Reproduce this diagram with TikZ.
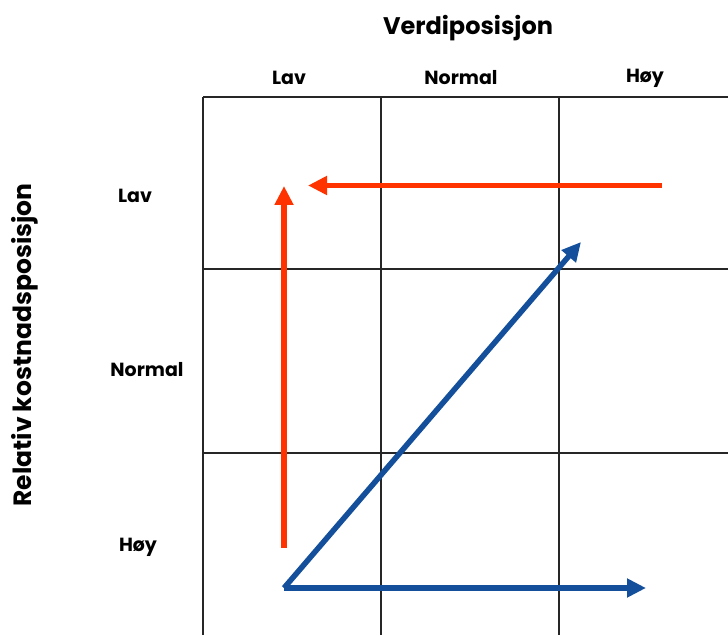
\documentclass[tikz,border=0pt]{standalone}
\usepackage{fontspec}
\setmainfont{Poppins}
\usepackage{tikz}
\usetikzlibrary{arrows.meta}
\definecolor{arrred}{RGB}{255,51,0}
\definecolor{arrblue}{RGB}{19,79,154}

\begin{document}
\begin{tikzpicture}[x=1pt, y=1pt,
  grid/.style={draw=black!85, line width=1.2pt},
  title/.style={font=\fontsize{24}{28}\selectfont\bfseries},
  lbl/.style={font=\fontsize{19}{22}\selectfont\bfseries},
  redarr/.style={draw=arrred, line width=5.5pt, -{Triangle[length=19pt,width=18pt]}},
  bluearr/.style={draw=arrblue, line width=5.5pt, -{Triangle[length=19pt,width=18pt]}}]
\useasboundingbox (0,0) rectangle (728,635);
% grid
\foreach \x in {203,381,559} \draw[grid] (\x,538) -- (\x,0);
\foreach \y in {538,366,182} \draw[grid] (203,\y) -- (728,\y);
% labels
\node[title] (vp) at (468,607) {Verdiposisjon};
\node[title, font=\fontsize{25}{28}\selectfont\bfseries, rotate=90] (kp) at (25,290) {Relativ kostnadsposisjon};
\node[lbl] (clav) at (289,557) {Lav};
\node[lbl] (cnorm) at (461,557) {Normal};
\node[lbl] (choy) at (645,557) {Høy};
\node[lbl] (rlav) at (135,439) {Lav};
\node[lbl] (rnorm) at (147,265) {Normal};
\node[lbl] (rhoy) at (138,88) {Høy};
% arrows
\coordinate (rs) at (662,449.5);
\coordinate (re) at (308,449.5);
\coordinate (vs) at (284,87);
\coordinate (ve) at (284,449);
\coordinate (bs) at (284,47);
\coordinate (bd) at (581,393);
\coordinate (bh) at (646,47);
\draw[redarr] (rs) -- (re);
\draw[redarr] (vs) -- (ve);
\draw[bluearr] (bs) -- (bd);
\draw[bluearr] (bs) -- (bh);
\end{tikzpicture}
\end{document}
